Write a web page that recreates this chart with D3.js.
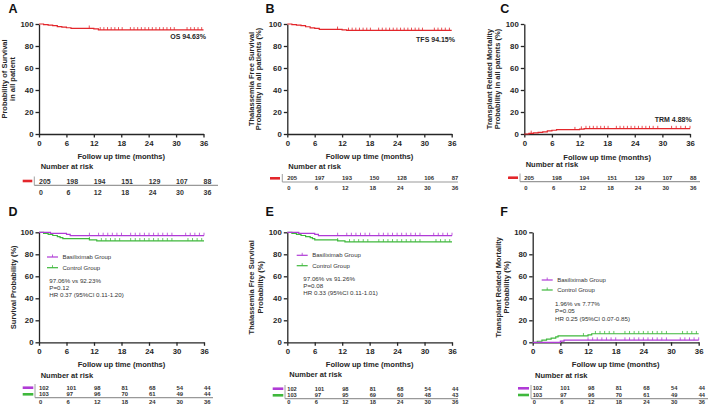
<!DOCTYPE html>
<html>
<head>
<meta charset="utf-8">
<script src="https://cdn.jsdelivr.net/npm/d3@7"></script>
<style>
  body { margin: 0; background: #fff; }
  svg { display: block; font-family: "Liberation Sans", Arial, sans-serif; }
</style>
</head>
<body>
<svg id="chart" width="709" height="409"></svg>
<script>
// ---- data ----
const months = [0, 6, 12, 18, 24, 30, 36]
const yTicks = [0, 20, 40, 60, 80, 100]

// A: overall survival, all patients
const osTime = [0, 1, 2, 3, 4, 5, 6, 7, 12, 13]
const osValue = [100, 99.5, 99, 98.5, 97.6, 97.1, 96.6, 96.1, 95.6, 94.63]
const osCensor = [11, 13.4, 14.2, 15, 15.8, 16.6, 17.4, 18.2, 20, 20.8, 21.6, 22.4, 23.2, 24, 24.8, 25.6, 26.4, 27.2, 28, 28.8, 29.6, 32.4, 33.2, 34, 34.8, 35.6]
const riskA = [205, 198, 194, 151, 129, 107, 88]

// B: thalassemia free survival, all patients
const tfsTime = [0, 1, 2, 3, 4, 5, 6, 7, 12, 13]
const tfsValue = [100, 99.5, 99, 98.5, 97.5, 96.5, 96, 95.1, 94.6, 94.15]
const tfsCensor = [11, 13.4, 14.2, 15, 15.8, 16.6, 17.4, 18.2, 20, 20.8, 21.6, 22.4, 23.2, 24, 24.8, 25.6, 26.4, 27.2, 28, 28.8, 29.6, 32.2, 33, 33.8, 34.6, 35.5]
const riskB = [205, 197, 193, 150, 128, 106, 87]

// C: transplant related mortality, all patients
const trmTime = [0, 1, 2, 3, 4, 5, 6, 7, 12, 13]
const trmValue = [0, 0.5, 1, 1.5, 2, 2.9, 3.4, 3.9, 4.4, 4.88]
const trmCensor = [1.5, 11, 12.4, 13.4, 14.2, 15, 15.8, 16.6, 17.4, 18.2, 20, 20.8, 21.6, 22.4, 23.2, 24, 24.8, 25.6, 26.4, 27.2, 28, 29, 32, 33, 34, 35, 36]
const riskC = [205, 198, 194, 151, 129, 107, 88]

// D: survival by group
const osBasiTime = [0, 2.5, 6, 6.8]
const osBasiValue = [100, 99.02, 98.04, 97.06]
const osBasiCensor = [11, 13, 14, 15, 16, 17, 18, 20, 21, 22, 23, 24, 25, 26, 27, 28, 29, 32, 33, 34, 35, 36]
const osCtrlTime = [0, 1, 2, 3, 4, 4.6, 5.2, 11, 12.6]
const osCtrlValue = [100, 99.03, 98.06, 97.09, 96.12, 95.15, 94.17, 93.2, 92.23]
const osCtrlCensor = [11, 13.6, 14.6, 15.6, 16.6, 17.6, 20, 21, 22, 23, 24, 25, 26, 27, 28, 29, 32.5, 33.5, 34.5, 35.5]
const riskDBasi = [102, 101, 98, 81, 68, 54, 44]
const riskDCtrl = [103, 97, 96, 70, 61, 49, 44]

// E: thalassemia free survival by group
const tfsBasiTime = [0, 2.5, 6, 6.8]
const tfsBasiValue = [100, 99.02, 98.04, 97.06]
const tfsBasiCensor = [11, 13, 14, 15, 16, 17, 18, 20, 21, 22, 23, 24, 25, 26, 27, 28, 29, 32, 33, 34, 35, 36]
const tfsCtrlTime = [0, 1, 2, 3, 4, 5, 5.5, 6, 11, 12.6]
const tfsCtrlValue = [100, 99.03, 98.06, 97.09, 96.12, 95.15, 94.17, 93.2, 92.23, 91.26]
const tfsCtrlCensor = [11, 13.6, 14.6, 15.6, 16.6, 17.6, 20, 21, 22, 23, 24, 25, 26, 27, 28, 29, 32.5, 33.5, 34.5, 35.5]
const riskEBasi = [102, 101, 98, 81, 68, 54, 44]
const riskECtrl = [103, 97, 95, 69, 60, 48, 43]

// F: transplant related mortality by group
const trmBasiTime = [0, 6, 6.8]
const trmBasiValue = [0, 0.98, 1.96]
const trmBasiCensor = [12, 13, 14, 15, 16, 17, 18, 20, 21, 22, 23, 24, 25, 26, 27, 28, 29, 32, 33, 34, 35, 36]
const trmCtrlTime = [0, 1, 2, 3, 4, 5, 5.5, 12, 12.8]
const trmCtrlValue = [0, 0.97, 1.94, 2.91, 3.88, 4.85, 5.83, 6.8, 7.77]
const trmCtrlCensor = [11, 13.6, 14.6, 15.6, 16.6, 17.6, 20, 21, 22, 23, 24, 25, 26, 27, 28, 29, 32.5, 33.5, 34.5, 35.5]
const riskFCtrl = [103, 97, 96, 70, 61, 49, 44]
const riskFBasi = [102, 101, 98, 81, 68, 54, 44]

const red = '#e3262b'
const purple = '#b03bd6'
const green = '#3fb83c'
const ink = '#262626'

const svg = d3.select('#chart')

function stepValue(time, value, t) {
  let i = d3.bisectRight(time, t) - 1
  return value[Math.max(0, i)]
}

function drawPanel(p) {
  let x = d3.scaleLinear().domain([0, 36]).range([p.x0, p.x1])
  let y = d3.scaleLinear().domain([0, 100]).range([p.yBot, p.yTop])

  let g = svg.append('g')

  g.append('text')
      .attr('x', p.letter[1])
      .attr('y', p.letter[2])
      .style('font-size', '12.5px')
      .style('font-weight', 'bold')
      .attr('fill', '#111')
      .text(p.letter[0])

  // axes
  let xAxis = g.append('g')
      .attr('transform', 'translate(0,' + p.yBot + ')')
      .call(d3.axisBottom(x).tickValues(months).tickSize(3.5).tickSizeOuter(0).tickPadding(3))
  let yAxis = g.append('g')
      .attr('transform', 'translate(' + p.x0 + ',0)')
      .call(d3.axisLeft(y).tickValues(yTicks).tickSize(3.5).tickSizeOuter(0).tickPadding(2))

  for (let ax of [xAxis, yAxis]) {
    ax.selectAll('path, line').attr('stroke', ink).attr('stroke-width', 1.3)
    ax.selectAll('text')
        .attr('fill', ink)
        .style('font-size', '7.8px')
        .style('font-weight', 'bold')
        .style('font-family', '"Liberation Sans", Arial, sans-serif')
  }

  g.append('text')
      .attr('x', (p.x0 + p.x1) / 2)
      .attr('y', p.xTitleY)
      .attr('text-anchor', 'middle')
      .attr('dominant-baseline', 'central')
      .style('font-size', '7.6px')
      .style('font-weight', 'bold')
      .attr('fill', ink)
      .text('Follow up time (months)')

  p.yTitle.forEach(function(line, i) {
    g.append('text')
        .attr('transform', 'translate(' + p.yTitleX[i] + ',' + p.yTitleY + ') rotate(-90)')
        .attr('text-anchor', 'middle')
        .attr('dominant-baseline', 'central')
        .style('font-size', '7.5px')
        .style('font-weight', 'bold')
        .attr('fill', ink)
        .text(line)
  })

  // curves
  let line = d3.line()
      .x(function(d) { return x(d[0]) })
      .y(function(d) { return y(d[1]) })
      .curve(d3.curveStepAfter)

  p.curves.forEach(function(c) {
    let pts = c.time.map(function(t, i) { return [t, c.value[i]] })
    pts.push([36, c.value[c.value.length - 1]])
    g.append('path')
        .attr('d', line(pts))
        .attr('fill', 'none')
        .attr('stroke', c.color)
        .attr('stroke-width', 1.2)

    g.selectAll(null)
        .data(c.censor)
      .enter().append('line')
        .attr('x1', function(d) { return x(d) })
        .attr('x2', function(d) { return x(d) })
        .attr('y1', function(d) { return y(stepValue(c.time, c.value, d)) })
        .attr('y2', function(d) { return y(stepValue(c.time, c.value, d)) - 2.8 })
        .attr('stroke', c.color)
        .attr('stroke-width', 0.8)
  })

  if (p.note) {
    g.append('text')
        .attr('x', p.note.x)
        .attr('y', p.note.y)
        .attr('text-anchor', 'end')
        .attr('dominant-baseline', 'central')
        .style('font-size', '7px')
        .style('font-weight', 'bold')
        .attr('fill', ink)
        .text(p.note.text)
  }

  if (p.legend) {
    p.legend.items.forEach(function(it, i) {
      let ly = p.legend.y[i]
      g.append('line')
          .attr('x1', p.legend.x).attr('x2', p.legend.x + 11)
          .attr('y1', ly).attr('y2', ly)
          .attr('stroke', it.color).attr('stroke-width', 1.2)
      g.append('line')
          .attr('x1', p.legend.x + 5.5).attr('x2', p.legend.x + 5.5)
          .attr('y1', ly).attr('y2', ly - 2.5)
          .attr('stroke', it.color).attr('stroke-width', 0.8)
      g.append('text')
          .attr('x', p.legend.x + 15.5)
          .attr('y', ly)
          .attr('dominant-baseline', 'central')
          .style('font-size', '6px')
          .attr('fill', '#333')
          .text(it.label)
    })
    p.stats.lines.forEach(function(s, i) {
      g.append('text')
          .attr('x', p.stats.x)
          .attr('y', p.stats.y[i])
          .attr('dominant-baseline', 'central')
          .style('font-size', '6.2px')
          .attr('fill', '#333')
          .text(s)
    })
  }

  // number at risk table
  let t = p.table
  g.append('text')
      .attr('x', t.titleX)
      .attr('y', t.titleY)
      .attr('dominant-baseline', 'central')
      .style('font-size', '7.5px')
      .style('font-weight', 'bold')
      .attr('fill', ink)
      .text('Number at risk')

  t.rows.forEach(function(r) {
    g.append('line')
        .attr('x1', t.dash[0]).attr('x2', t.dash[1])
        .attr('y1', r.y).attr('y2', r.y)
        .attr('stroke', r.color).attr('stroke-width', 2.6)
    g.selectAll(null)
        .data(r.risk)
      .enter().append('text')
        .attr('x', function(d, i) { return x(months[i]) })
        .attr('y', r.y)
        .attr('dominant-baseline', 'central')
        .style('font-size', t.fs + 'px')
        .style('font-weight', 'bold')
        .attr('fill', '#333')
        .text(function(d) { return d })
  })

  g.append('line')
      .attr('x1', t.sepX).attr('x2', t.sepX)
      .attr('y1', t.sepY[0]).attr('y2', t.lineY)
      .attr('stroke', '#888').attr('stroke-width', 0.8)
  g.append('line')
      .attr('x1', t.sepX).attr('x2', t.lineX2)
      .attr('y1', t.lineY).attr('y2', t.lineY)
      .attr('stroke', '#999').attr('stroke-width', 1.2)

  g.selectAll(null)
      .data(months)
    .enter().append('text')
      .attr('x', function(d) { return x(d) })
      .attr('y', t.bottomY)
      .attr('dominant-baseline', 'central')
      .style('font-size', t.fs + 'px')
      .style('font-weight', 'bold')
      .attr('fill', '#333')
      .text(function(d) { return d })
}

drawPanel({
  letter: ['A', 8.5, 12.5], x0: 39, x1: 203.5, yTop: 24, yBot: 134, xTitleY: 156,
  yTitle: ['Probability of Survival', 'in all patient'], yTitleX: [4.8, 12.8], yTitleY: 79,
  curves: [{ time: osTime, value: osValue, censor: osCensor, color: red }],
  note: { text: 'OS 94.63%', x: 206, y: 36.7 },
  table: { titleX: 40.7, titleY: 166.7, rows: [{ risk: riskA, color: red, y: 181 }],
    dash: [22.7, 32.3], sepX: 34.3, sepY: [176.5], lineY: 185.3, lineX2: 218, bottomY: 192.7, fs: 7 }
})

drawPanel({
  letter: ['B', 265.5, 12.5], x0: 287.3, x1: 451.7, yTop: 24, yBot: 134, xTitleY: 156,
  yTitle: ['Thalassemia Free Survival', 'Probability in all patients (%)'], yTitleX: [251, 258.5], yTitleY: 79,
  curves: [{ time: tfsTime, value: tfsValue, censor: tfsCensor, color: red }],
  note: { text: 'TFS 94.15%', x: 455, y: 39.3 },
  table: { titleX: 288.3, titleY: 166.7, rows: [{ risk: riskB, color: red, y: 178.3 }],
    dash: [270, 280], sepX: 282.3, sepY: [174], lineY: 182, lineX2: 458, bottomY: 187.7, fs: 5.9 }
})

drawPanel({
  letter: ['C', 500.2, 12.5], x0: 524.3, x1: 690, yTop: 24, yBot: 134, xTitleY: 157.3,
  yTitle: ['Transplant Related Mortality', 'Probability in all patents (%)'], yTitleX: [489.7, 497.3], yTitleY: 79,
  curves: [{ time: trmTime, value: trmValue, censor: trmCensor, color: red }],
  note: { text: 'TRM 4.88%', x: 691.7, y: 119.3 },
  table: { titleX: 525.7, titleY: 164.3, rows: [{ risk: riskC, color: red, y: 177.7 }],
    dash: [508, 518], sepX: 520, sepY: [173.5], lineY: 181.7, lineX2: 700, bottomY: 187.7, fs: 5.9 }
})

let groups = [{ label: 'Basiliximab Group', color: purple }, { label: 'Control Group', color: green }]

drawPanel({
  letter: ['D', 8.5, 215.5], x0: 39, x1: 204, yTop: 232.3, yBot: 342.3, xTitleY: 364.3,
  yTitle: ['Survival Probability (%)'], yTitleX: [13.3], yTitleY: 287.3,
  curves: [
    { time: osCtrlTime, value: osCtrlValue, censor: osCtrlCensor, color: green },
    { time: osBasiTime, value: osBasiValue, censor: osBasiCensor, color: purple }
  ],
  legend: { items: groups, x: 47, y: [257, 267.7] },
  stats: { x: 49.3, y: [280, 287.3, 294.3], lines: ['97.06% vs 92.23%', 'P=0.12', 'HR 0.37 (95%CI 0.11-1.20)'] },
  table: { titleX: 40.7, titleY: 375.7,
    rows: [{ risk: riskDBasi, color: purple, y: 387.7 }, { risk: riskDCtrl, color: green, y: 394.3 }],
    dash: [22.7, 33.3], sepX: 35, sepY: [384], lineY: 397.7, lineX2: 213, bottomY: 401.5, fs: 5.9 }
})

drawPanel({
  letter: ['E', 265.5, 215.5], x0: 287.3, x1: 452, yTop: 232.3, yBot: 342.3, xTitleY: 364.3,
  yTitle: ['Thalassemia Free Survival', 'Probability (%)'], yTitleX: [251.7, 260], yTitleY: 287.3,
  curves: [
    { time: tfsCtrlTime, value: tfsCtrlValue, censor: tfsCtrlCensor, color: green },
    { time: tfsBasiTime, value: tfsBasiValue, censor: tfsBasiCensor, color: purple }
  ],
  legend: { items: groups, x: 296.7, y: [255.3, 265.7] },
  stats: { x: 303.3, y: [278, 285.3, 292.3], lines: ['97.06% vs 91.26%', 'P=0.08', 'HR 0.33 (95%CI 0.11-1.01)'] },
  table: { titleX: 289.3, titleY: 374.7,
    rows: [{ risk: riskEBasi, color: purple, y: 388.7 }, { risk: riskECtrl, color: green, y: 395.3 }],
    dash: [272.7, 283.3], sepX: 285, sepY: [385], lineY: 398.7, lineX2: 458, bottomY: 402, fs: 5.7 }
})

drawPanel({
  letter: ['F', 500.2, 216], x0: 532.7, x1: 698.7, yTop: 232.3, yBot: 342.3, xTitleY: 364.3,
  yTitle: ['Transplant Related Mortality', 'Probability (%)'], yTitleX: [498.3, 506.7], yTitleY: 287.3,
  curves: [
    { time: trmCtrlTime, value: trmCtrlValue, censor: trmCtrlCensor, color: green },
    { time: trmBasiTime, value: trmBasiValue, censor: trmBasiCensor, color: purple }
  ],
  legend: { items: groups, x: 541.7, y: [280, 290] },
  stats: { x: 555, y: [303.7, 310.7, 318], lines: ['1.96% vs 7.77%', 'P=0.05', 'HR 0.25 (95%CI 0.07-0.85)'] },
  table: { titleX: 535, titleY: 375,
    rows: [{ risk: riskFBasi, color: purple, y: 388.3 }, { risk: riskFCtrl, color: green, y: 395 }],
    dash: [518, 529], sepX: 531, sepY: [385], lineY: 398.7, lineX2: 708, bottomY: 401.7, fs: 5.7 }
})
</script>
</body>
</html>
